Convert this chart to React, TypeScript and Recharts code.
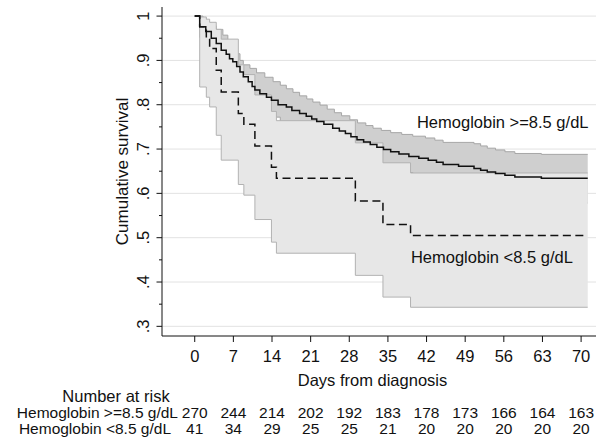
import React from "react";
import {
  ComposedChart,
  Area,
  Line,
  XAxis,
  YAxis,
  CartesianGrid,
  ReferenceDot,
} from "recharts";

// Kaplan-Meier curves: [day, survival]
const kmHigh: [number, number][] = [
  [0, 1], [0.9, 0.976], [2.0, 0.965], [3.0, 0.95], [3.9, 0.938], [4.8, 0.923],
  [5.7, 0.914], [6.3, 0.904], [6.9, 0.897], [7.6, 0.886], [8.2, 0.874],
  [8.8, 0.863], [9.7, 0.852], [10.4, 0.841], [10.9, 0.833], [11.8, 0.825],
  [13.0, 0.817], [13.9, 0.81], [15.1, 0.8], [16.6, 0.795], [17.6, 0.787],
  [19.0, 0.78], [20.2, 0.774], [21.2, 0.768], [22.1, 0.762], [23.4, 0.756],
  [25.0, 0.747], [26.2, 0.741], [27.3, 0.735], [28.3, 0.728], [29.4, 0.721],
  [30.6, 0.716], [31.8, 0.71], [33.0, 0.704], [34.2, 0.699], [35.5, 0.694],
  [37.0, 0.689], [38.8, 0.683], [40.6, 0.679], [42.3, 0.675], [43.8, 0.67],
  [45.0, 0.665], [47.8, 0.661], [50.6, 0.656], [51.8, 0.652], [53.0, 0.648],
  [54.5, 0.645], [56.2, 0.641], [58.0, 0.637], [62.8, 0.634], [71.2, 0.634],
];

const kmLow: [number, number][] = [
  [0, 1], [0.9, 0.976], [2.1, 0.951], [2.7, 0.927], [3.9, 0.878], [4.8, 0.829],
  [7.9, 0.78], [8.9, 0.756], [10.9, 0.707], [13.9, 0.659], [14.8, 0.634],
  [29.1, 0.583], [34.1, 0.53], [39.1, 0.505], [71.2, 0.505],
];

// 95% confidence bands: [day, lower, upper]
const ciHigh: [number, number, number][] = [
  [0, 1, 1], [0.9, 0.952, 1], [1.5, 0.952, 0.995], [2.1, 0.938, 0.985],
  [3.0, 0.922, 0.978], [3.9, 0.908, 0.97], [5.1, 0.89, 0.957], [6.0, 0.878, 0.943],
  [6.9, 0.862, 0.93], [7.6, 0.85, 0.915], [8.2, 0.838, 0.9], [8.8, 0.826, 0.89],
  [10.0, 0.81, 0.882], [11.2, 0.795, 0.872], [12.7, 0.783, 0.862],
  [14.2, 0.772, 0.852], [15.5, 0.762, 0.844], [16.6, 0.755, 0.836],
  [17.8, 0.747, 0.828], [19.0, 0.74, 0.82], [20.3, 0.733, 0.813],
  [21.4, 0.727, 0.806], [22.7, 0.72, 0.799], [24.0, 0.712, 0.79],
  [25.3, 0.705, 0.782], [26.6, 0.698, 0.775], [28.1, 0.69, 0.766],
  [29.5, 0.682, 0.759], [31.0, 0.675, 0.753], [32.3, 0.668, 0.747],
  [33.8, 0.661, 0.742], [35.5, 0.654, 0.737], [37.5, 0.647, 0.733],
  [39.5, 0.641, 0.729], [41.8, 0.635, 0.725], [43.5, 0.628, 0.72],
  [45.0, 0.62, 0.715], [50.6, 0.612, 0.712], [51.8, 0.604, 0.707],
  [53.0, 0.597, 0.702], [54.5, 0.591, 0.698], [56.2, 0.586, 0.694],
  [58.0, 0.581, 0.69], [62.8, 0.578, 0.688], [71.2, 0.578, 0.688],
];

const ciLow: [number, number, number][] = [
  [0, 1, 1], [0.9, 0.84, 0.998], [2.1, 0.817, 0.993], [2.7, 0.795, 0.986],
  [3.9, 0.731, 0.97], [4.8, 0.675, 0.948], [7.9, 0.62, 0.89], [8.9, 0.596, 0.868],
  [10.9, 0.541, 0.822], [13.9, 0.49, 0.785], [14.8, 0.465, 0.764],
  [29.1, 0.415, 0.714], [34.1, 0.366, 0.669], [39.1, 0.343, 0.646],
  [71.2, 0.343, 0.646],
];

// number-at-risk table
const riskDays = [0, 7, 14, 21, 28, 35, 42, 49, 56, 63, 70];
const riskHigh = [270, 244, 214, 202, 192, 183, 178, 173, 166, 164, 163];
const riskLow = [41, 34, 29, 25, 25, 21, 20, 20, 20, 20, 20];

const yTicks = [
  0.3, 0.35, 0.4, 0.45, 0.5, 0.55, 0.6, 0.65, 0.7, 0.75, 0.8, 0.85, 0.9, 0.95, 1,
];
const gridValues = [0.3, 0.4, 0.5, 0.6, 0.7, 0.8, 0.9, 1];

const FONT = "'Liberation Sans', Arial, Helvetica, sans-serif";
const INK = "#111";
const TABLE_FONT = 15.5;

const highLine = kmHigh.map(([t, s]) => ({ t, s }));
const lowLine = kmLow.map(([t, s]) => ({ t, s }));
const highBand = ciHigh.map(([t, lo, hi]) => ({ t, band: [lo, hi] }));
const lowBand = ciLow.map(([t, lo, hi]) => ({ t, band: [lo, hi] }));

function SurvTick(props: any) {
  const { x, y, payload } = props;
  const v = payload.value as number;
  const major = Math.round(v * 100) % 10 === 0;
  const label = v === 1 ? "1" : "." + Math.round(v * 10);
  const tx = x - 12.5;
  return (
    <g>
      <line x1={x - (major ? 5.5 : 3)} x2={x} y1={y} y2={y} stroke={INK} strokeWidth={1} />
      {major && (
        <text
          x={tx}
          y={y}
          transform={`rotate(-90, ${tx}, ${y})`}
          textAnchor="middle"
          fontSize={16.5}
          fontFamily={FONT}
          fill={INK}
        >
          {label}
        </text>
      )}
    </g>
  );
}

function DayTick(props: any) {
  const { x, y, payload } = props;
  const i = riskDays.indexOf(payload.value);
  const row = { textAnchor: "middle" as const, fontSize: TABLE_FONT, fontFamily: FONT, fill: INK };
  return (
    <g>
      <text x={x} y={y + 19.7} textAnchor="middle" fontSize={16.5} fontFamily={FONT} fill={INK}>
        {payload.value}
      </text>
      <text x={x} y={y + 75.7} {...row}>{riskHigh[i]}</text>
      <text x={x} y={y + 92.2} {...row}>{riskLow[i]}</text>
    </g>
  );
}

function BottomTitles(props: any) {
  const vb = props.viewBox ?? { x: 162, y: 336, width: 434 };
  const base = { fontSize: 16.5, fontFamily: FONT, fill: INK };
  const row = { fontSize: TABLE_FONT, fontFamily: FONT, fill: INK };
  return (
    <g>
      <text x={372.5} y={vb.y + 50} textAnchor="middle" {...base}>
        Days from diagnosis
      </text>
      <text x={116} y={vb.y + 65.5} textAnchor="middle" {...base}>
        Number at risk
      </text>
      <text x={178} y={vb.y + 81.7} textAnchor="end" {...row}>
        Hemoglobin &gt;=8.5 g/dL
      </text>
      <text x={171} y={vb.y + 98.2} textAnchor="end" {...row}>
        Hemoglobin &lt;8.5 g/dL
      </text>
    </g>
  );
}

function YTitle(props: any) {
  const vb = props.viewBox ?? { x: 0, y: 7, width: 162, height: 329 };
  const cx = 128;
  const cy = vb.y + vb.height / 2;
  return (
    <text
      x={cx}
      y={cy}
      transform={`rotate(-90, ${cx}, ${cy})`}
      textAnchor="middle"
      fontSize={17}
      fontFamily={FONT}
      fill={INK}
    >
      Cumulative survival
    </text>
  );
}

export default function App() {
  return (
    <div style={{ position: "absolute", left: 0, top: 0, width: 596, height: 442, background: "#fff" }}>
      <ComposedChart width={596} height={442} margin={{ top: 7, right: 0, bottom: 0, left: 0 }}>
        <CartesianGrid vertical={false} horizontalValues={gridValues} stroke="#e2e2e2" strokeWidth={1} />
        <XAxis
          dataKey="t"
          type="number"
          domain={[-5.93, 72.7]}
          ticks={riskDays}
          interval={0}
          allowDataOverflow
          height={106}
          tickSize={6}
          tickMargin={0}
          tickLine={{ stroke: INK }}
          axisLine={{ stroke: INK }}
          tick={<DayTick />}
          label={{ content: <BottomTitles /> }}
        />
        <YAxis
          type="number"
          domain={[0.2782, 1.0205]}
          ticks={yTicks}
          interval={0}
          allowDataOverflow
          width={162}
          tickSize={0}
          tickMargin={0}
          tickLine={false}
          axisLine={{ stroke: INK }}
          tick={<SurvTick />}
          label={{ content: <YTitle /> }}
        />
        <Area
          data={highBand}
          dataKey="band"
          type="stepAfter"
          fill="#cfcfcf"
          fillOpacity={1}
          stroke="#a6a6a6"
          strokeWidth={1}
          isAnimationActive={false}
        />
        <Area
          data={lowBand}
          dataKey="band"
          type="stepAfter"
          fill="#e7e7e7"
          fillOpacity={1}
          stroke="#b2b2b2"
          strokeWidth={1}
          isAnimationActive={false}
        />
        <Line
          data={highLine}
          dataKey="s"
          type="stepAfter"
          stroke={INK}
          strokeWidth={1.5}
          dot={false}
          isAnimationActive={false}
        />
        <Line
          data={lowLine}
          dataKey="s"
          type="stepAfter"
          stroke={INK}
          strokeWidth={1.5}
          strokeDasharray="8 4.5"
          dot={false}
          isAnimationActive={false}
        />
        <ReferenceDot
          x={40.26}
          y={0.7607}
          r={0}
          fill="none"
          stroke="none"
          label={{ value: "Hemoglobin >=8.5 g/dL", position: "right", offset: 0, fontSize: 16.5, fontFamily: FONT, fill: INK }}
        />
        <ReferenceDot
          x={39.17}
          y={0.4559}
          r={0}
          fill="none"
          stroke="none"
          label={{ value: "Hemoglobin <8.5 g/dL", position: "right", offset: 0, fontSize: 16.5, fontFamily: FONT, fill: INK }}
        />
      </ComposedChart>
    </div>
  );
}
